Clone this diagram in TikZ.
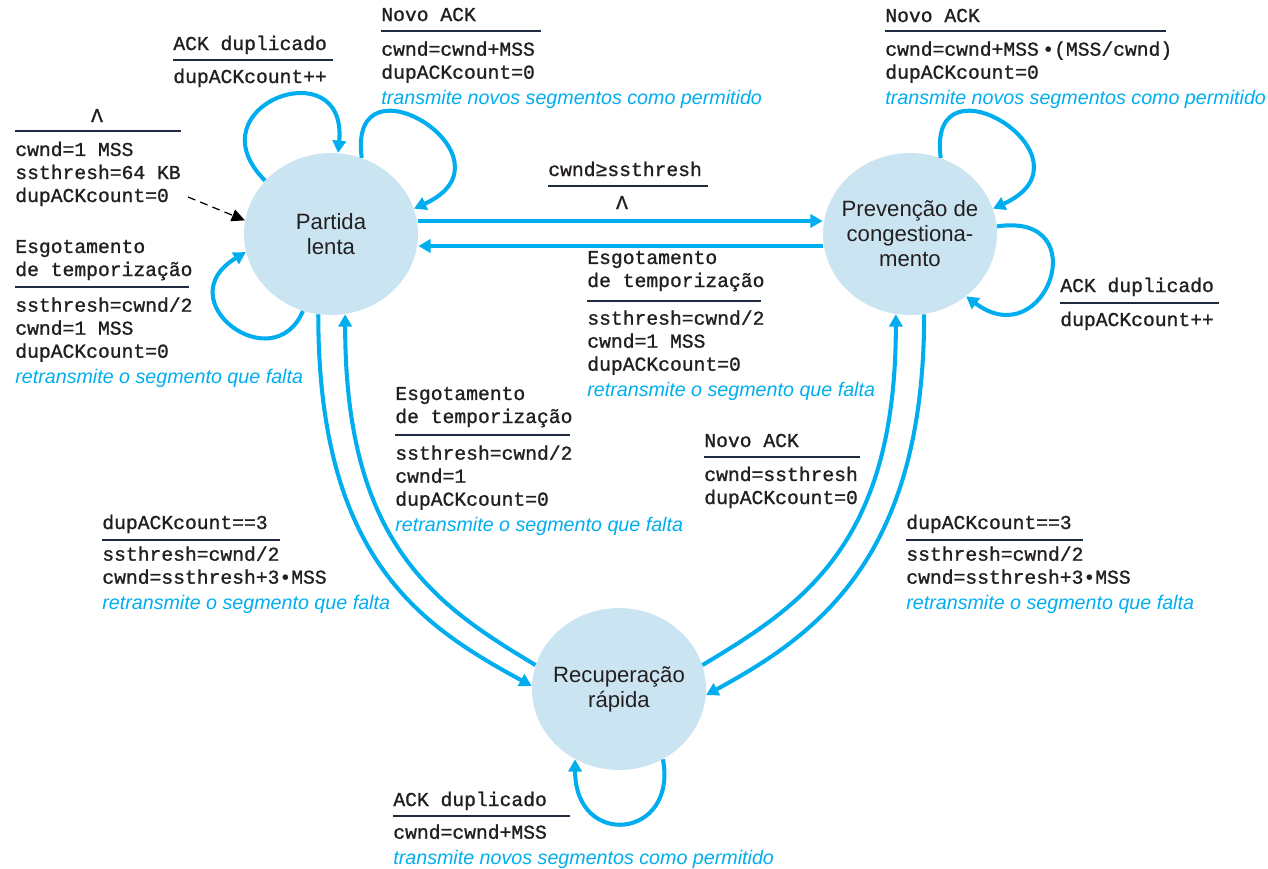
\documentclass[tikz,border=0pt]{standalone}
\usepackage{fontspec}
\setmainfont{Liberation Sans}
\newfontfamily\cod[FakeBold=1.1]{Liberation Mono}
\usetikzlibrary{arrows.meta,shapes.geometric}
\definecolor{ciano}{RGB}{0,174,239}
\definecolor{azulclaro}{RGB}{203,228,241}
\definecolor{traco}{RGB}{33,43,64}
\definecolor{texto}{RGB}{35,31,32}
\newcommand\acao[1]{{\rmfamily\itshape\color{ciano}#1}}

\begin{document}
\begin{tikzpicture}[x=0.02cm,y=-0.02cm,>=Stealth,
  estado/.style={ellipse,fill=azulclaro,minimum width=3.48cm,minimum height=3.24cm,inner sep=-6pt,
    align=center,text=texto,font=\fontsize{12.6}{14.2}\selectfont},
  trans/.style={draw=ciano,line width=2.3pt,-{Triangle[length=7pt,width=7.5pt]}},
  regra/.style={draw=traco,line width=1.1pt},
  cmd/.style={anchor=base west,inner sep=0pt,align=left,text=texto,font=\cod\fontsize{11.2}{13.1}\selectfont}]
\useasboundingbox (0,0) rectangle (1268,869);
\node[estado] (pl) at (331,234) {Partida\\lenta};
\node[estado] (pc) at (910,234) {Prevenção de\\congestiona-\\mento};
\node[estado] (rr) at (619,689) {Recuperação\\rápida};
\coordinate (ini) at (188,197);
\draw[black,line width=0.7pt,dash pattern=on 4.5pt off 3pt,-{Triangle[length=7.5pt,width=7pt]}] (ini) -- (pl.171);
\draw[trans] ([yshift=0.26cm]pl.east) -- ([yshift=0.26cm]pc.west);
\draw[trans] ([yshift=-0.24cm]pc.west) -- ([yshift=-0.24cm]pl.east);
\draw[trans] (pl.141) .. controls +(-75,-75) and +(10,-105) .. (pl.85);
\draw[trans] (pl.68) .. controls +(-15,-110) and +(110,-50) .. (pl.17);
\draw[trans] (pl.250) .. controls +(-30,70) and +(-80,48) .. (pl.192);
\draw[trans] (pc.68) .. controls +(-15,-110) and +(110,-50) .. (pc.17);
\draw[trans] (pc.5) .. controls +(100,-15) and +(80,60) .. (pc.312);
\draw[trans] (rr.302) .. controls +(15,80) and +(0,90) .. (rr.238);
\draw[trans] (pl.261) .. controls +(0,245) and +(-110,-60) .. (rr.178);
\draw[trans] (rr.164) .. controls +(-100,-60) and +(0,230) .. (pl.280);
\draw[trans] (pc.280) .. controls +(0,245) and +(110,-60) .. (rr.356);
\draw[trans] (rr.16) .. controls +(100,-60) and +(0,230) .. (pc.260);
\node[cmd,anchor=base] (ag) at (97,122) {Λ};
\draw[regra] (15,131) -- (181,131);
\node[cmd] (aa) at (15,202) {cwnd=1 MSS\\ssthresh=64 KB\\dupACKcount=0};
\node[cmd] (bg) at (15,276) {Esgotamento\\de temporização};
\draw[regra] (15,287) -- (189,287);
\node[cmd] (ba) at (15,383) {ssthresh=cwnd/2\\cwnd=1 MSS\\dupACKcount=0\\[1.3pt]\acao{retransmite o segmento que falta}};
\node[cmd] (cg) at (173,50) {ACK duplicado};
\draw[regra] (173,60) -- (333,60);
\node[cmd] (ca) at (173,83) {dupACKcount++};
\node[cmd] (dg) at (381,21) {Novo ACK};
\draw[regra] (381,31) -- (541,31);
\node[cmd] (da) at (381,104) {cwnd=cwnd+MSS\\dupACKcount=0\\[1.3pt]\acao{transmite novos segmentos como permitido}};
\node[cmd] (eg) at (885,22) {Novo ACK};
\draw[regra] (885,31) -- (1166,31);
\node[cmd] (ea) at (885,104) {cwnd=cwnd+MSS\kern2pt•(MSS/cwnd)\\dupACKcount=0\\[1.3pt]\acao{transmite novos segmentos como permitido}};
\node[cmd] (fg) at (548,176) {cwnd≥ssthresh};
\draw[regra] (548,186) -- (708,186);
\node[cmd,anchor=base] (fa) at (622,209) {Λ};
\node[cmd] (gg) at (587,287) {Esgotamento\\de temporização};
\draw[regra] (587,301) -- (761,301);
\node[cmd] (ga) at (587,396) {ssthresh=cwnd/2\\cwnd=1 MSS\\dupACKcount=0\\[1.3pt]\acao{retransmite o segmento que falta}};
\node[cmd] (hg) at (1060,292) {ACK duplicado};
\draw[regra] (1060,303) -- (1219,303);
\node[cmd] (ha) at (1060,326) {dupACKcount++};
\node[cmd] (ig) at (395,423) {Esgotamento\\de temporização};
\draw[regra] (395,435) -- (570,435);
\node[cmd] (ia) at (395,531) {ssthresh=cwnd/2\\cwnd=1\\dupACKcount=0\\[1.3pt]\acao{retransmite o segmento que falta}};
\node[cmd] (jg) at (704,447) {Novo ACK};
\draw[regra] (704,457) -- (860,457);
\node[cmd] (ja) at (704,504) {cwnd=ssthresh\\dupACKcount=0};
\node[cmd] (kg) at (102,529) {dupACKcount==3};
\draw[regra] (102,540) -- (280,540);
\node[cmd] (ka) at (102,609) {ssthresh=cwnd/2\\cwnd=ssthresh+3•MSS\\[1.3pt]\acao{retransmite o segmento que falta}};
\node[cmd] (lg) at (906,529) {dupACKcount==3};
\draw[regra] (906,540) -- (1083,540);
\node[cmd] (la) at (906,609) {ssthresh=cwnd/2\\cwnd=ssthresh+3•MSS\\[1.3pt]\acao{retransmite o segmento que falta}};
\node[cmd] (mg) at (393,806) {ACK duplicado};
\draw[regra] (393,816) -- (570,816);
\node[cmd] (ma) at (393,864) {cwnd=cwnd+MSS\\[1.3pt]\acao{transmite novos segmentos como permitido}};
\end{tikzpicture}
\end{document}
